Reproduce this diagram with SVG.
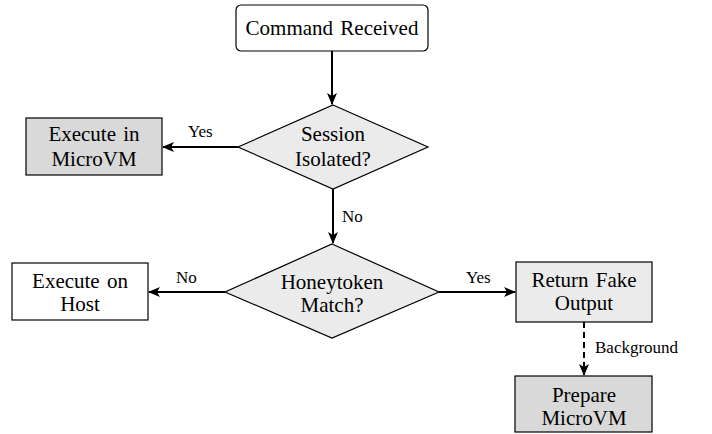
<svg xmlns="http://www.w3.org/2000/svg" width="712" height="434" viewBox="0 0 712 434">
<defs>
<style>
.box{stroke:#000;stroke-width:1.2}
.t{font-family:"Liberation Serif","Times New Roman",serif;font-size:21px;fill:#000;text-anchor:middle;word-spacing:2px}
.l{font-family:"Liberation Serif","Times New Roman",serif;font-size:17px;fill:#000}
.c{stroke:#000;stroke-width:2;fill:none}
</style>
<marker id="ah" viewBox="0 0 12 10" refX="11" refY="5" markerWidth="12" markerHeight="10" markerUnits="userSpaceOnUse" orient="auto">
<path d="M0,0 L12,5 L0,10 L3,5 Z" fill="#000"/>
</marker>
</defs>
<rect width="712" height="434" fill="#fff"/>
<g id="connectors">
<line class="c" x1="332" y1="51" x2="332" y2="104" marker-end="url(#ah)"/>
<line class="c" x1="238" y1="147" x2="163" y2="147" marker-end="url(#ah)"/>
<text class="l" x="188" y="137">Yes</text>
<line class="c" x1="333" y1="189" x2="333" y2="243" marker-end="url(#ah)"/>
<text class="l" x="342" y="222">No</text>
<line class="c" x1="225" y1="292" x2="149" y2="292" marker-end="url(#ah)"/>
<text class="l" x="176" y="283">No</text>
<line class="c" x1="439" y1="292" x2="515" y2="292" marker-end="url(#ah)"/>
<text class="l" x="466" y="283">Yes</text>
<line class="c" x1="584" y1="322" x2="584" y2="375" stroke-dasharray="6,4" marker-end="url(#ah)"/>
<text class="l" x="595" y="353">Background</text>
</g>
<g id="command-received">
<rect class="box" x="236" y="5" width="192" height="46" rx="5" fill="#fff"/>
<text class="t" x="332" y="35">Command Received</text>
</g>
<g id="session-isolated">
<polygon class="box" points="333,105 428,147 333,189 238,147" fill="#ebebeb"/>
<text class="t" x="333" y="141">Session</text>
<text class="t" x="333" y="166">Isolated?</text>
</g>
<g id="execute-microvm">
<rect class="box" x="26" y="118" width="136" height="57" fill="#d9d9d9"/>
<text class="t" x="94" y="141">Execute in</text>
<text class="t" x="94" y="166">MicroVM</text>
</g>
<g id="honeytoken-match">
<polygon class="box" points="332,244 439,292 332,338 225,292" fill="#ebebeb"/>
<text class="t" x="332" y="289">Honeytoken</text>
<text class="t" x="332" y="312">Match?</text>
</g>
<g id="execute-host">
<rect class="box" x="12" y="263" width="136" height="57" fill="#fff"/>
<text class="t" x="80" y="288">Execute on</text>
<text class="t" x="80" y="311">Host</text>
</g>
<g id="return-fake">
<rect class="box" x="516" y="262" width="136" height="60" fill="#ebebeb"/>
<text class="t" x="584" y="287">Return Fake</text>
<text class="t" x="584" y="310">Output</text>
</g>
<g id="prepare-microvm">
<rect class="box" x="515" y="376" width="137" height="56" fill="#d9d9d9"/>
<text class="t" x="584" y="402">Prepare</text>
<text class="t" x="584" y="425">MicroVM</text>
</g>
</svg>
